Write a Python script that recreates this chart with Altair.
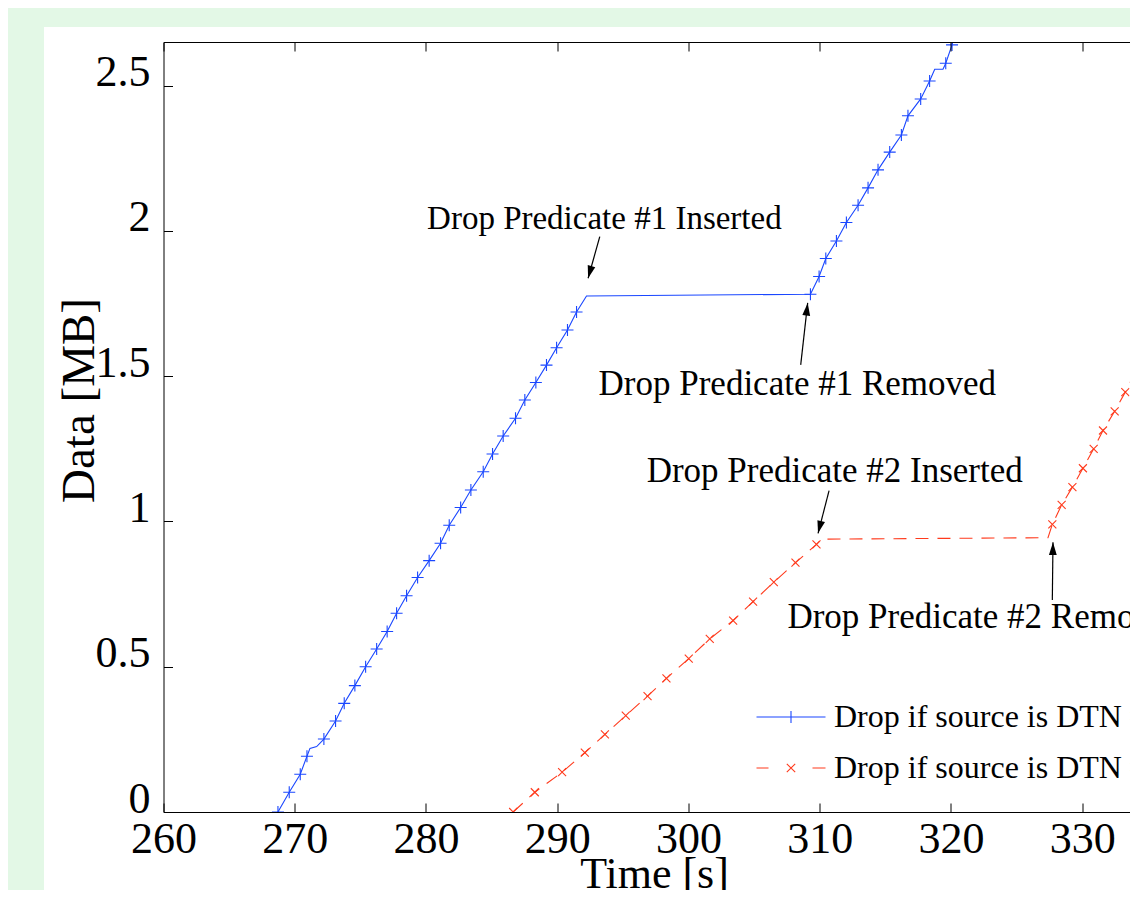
import math
import altair as alt
import pandas as pd

# ---------------- data ----------------
SERIES = ["Drop if source is DTN #1", "Drop if source is DTN #2"]

BLUE_T = [268.72, 269.58, 270.42, 270.93, 271.16, 271.67, 272.22, 273.11, 273.77, 274.58,
          275.40, 276.24, 277.04, 277.76, 278.52, 279.36, 280.24, 281.11, 281.77, 282.64,
          283.42, 284.36, 285.07, 285.88, 286.82, 287.53, 288.37, 289.18, 289.95, 290.78,
          291.47, 292.23, 309.29, 309.95, 310.46, 311.27, 312.03, 312.92, 313.68, 314.44,
          315.33, 316.22, 316.72, 317.69, 318.37, 318.76, 319.39, 319.60, 320.08, 320.24]
BLUE_MB = [0.000, 0.068, 0.130, 0.192, 0.219, 0.225, 0.251, 0.313, 0.374, 0.435,
           0.500, 0.561, 0.621, 0.684, 0.744, 0.807, 0.865, 0.925, 0.987, 1.048,
           1.108, 1.171, 1.232, 1.294, 1.355, 1.418, 1.478, 1.538, 1.598, 1.659,
           1.721, 1.776, 1.782, 1.843, 1.905, 1.965, 2.029, 2.088, 2.148, 2.210,
           2.271, 2.330, 2.396, 2.454, 2.516, 2.556, 2.556, 2.577, 2.640, 2.675]
BLUE_MARK = [1, 1, 1, 1, 0, 0, 1, 1, 1, 1,
             1, 1, 1, 1, 1, 1, 1, 1, 1, 1,
             1, 1, 1, 1, 1, 1, 1, 1, 1, 1,
             1, 0, 1, 1, 1, 1, 1, 1, 1, 1,
             1, 1, 1, 1, 1, 0, 0, 1, 1, 0]

RED_T = [286.64, 288.29, 290.37, 292.10, 293.63, 295.22, 296.88, 298.32, 300.02, 301.62,
         303.40, 304.92, 306.50, 308.15, 309.75, 310.13, 327.39, 327.72, 328.43, 329.25,
         330.05, 330.87, 331.58, 332.47, 333.28, 333.99, 334.75]
RED_MB = [0.000, 0.068, 0.137, 0.204, 0.267, 0.332, 0.399, 0.460, 0.528, 0.596,
          0.659, 0.724, 0.791, 0.858, 0.921, 0.939, 0.944, 0.990, 1.057, 1.118,
          1.183, 1.250, 1.313, 1.379, 1.445, 1.510, 1.573]
RED_MARK = [1, 1, 1, 1, 1, 1, 1, 1, 1, 1,
            1, 1, 1, 1, 1, 0, 0, 1, 1, 1,
            1, 1, 1, 1, 1, 1, 1]

X_TICKS = [260, 270, 280, 290, 300, 310, 320, 330]
Y_TICKS = [0, 0.5, 1, 1.5, 2, 2.5]

ANN_TEXT = ["Drop Predicate #1 Inserted", "Drop Predicate #1 Removed",
            "Drop Predicate #2 Inserted", "Drop Predicate #2 Removed"]
ANN_T = [293.59, 308.29, 311.14, 322.68]
ANN_MB = [2.007, 1.435, 1.137, 0.632]
ARROW_T0 = [293.24, 308.55, 310.71, 327.72]
ARROW_MB0 = [1.980, 1.539, 1.106, 0.730]
ARROW_T1 = [292.35, 309.08, 309.87, 327.77]
ARROW_MB1 = [1.837, 1.752, 0.959, 0.928]

# ---------------- styling ----------------
PX_PER_S = 13.125
X_DOMAIN = [260, 333.6]
Y_DOMAIN = [0, 2.65]
W = round((X_DOMAIN[1] - X_DOMAIN[0]) * PX_PER_S)
H = 770
BLUE = "#1a47ff"
RED = "#ff3a1c"
GREEN = "#e3f8e6"
FONT = "Liberation Serif"
ANN_FONT_SIZES = [33, 35, 35, 35]

PLUS = "M-1,0L1,0M0,-1L0,1"
CROSS = "M-1,-1L1,1M-1,1L1,-1"
ARROW_HEAD = "M0,0L-0.65,2.1L0.65,2.1Z"
LEG_BLUE = "M-1,0L10.5,0M4.75,-1L4.75,1"
LEG_RED = "M-1,0L1,0M8.33,0L10.5,0M4.05,-0.7L5.45,0.7M4.05,0.7L5.45,-0.7"

xs = alt.Scale(domain=X_DOMAIN, nice=False, zero=False)
ys = alt.Scale(domain=Y_DOMAIN, nice=False, zero=False)
cs = alt.Scale(domain=SERIES, range=[BLUE, RED])

blue = pd.DataFrame({"t": BLUE_T, "mb": BLUE_MB, "mark": BLUE_MARK,
                     "ord": list(range(len(BLUE_T)))})
red = pd.DataFrame({"t": RED_T, "mb": RED_MB, "mark": RED_MARK,
                    "ord": list(range(len(RED_T)))})
blue_pts = blue[blue.mark == 1]
red_pts = red[red.mark == 1]

sx = W / (X_DOMAIN[1] - X_DOMAIN[0])
sy = H / (Y_DOMAIN[1] - Y_DOMAIN[0])
angles = [math.degrees(math.atan2((t1 - t0) * sx, (m1 - m0) * sy)) % 360
          for t0, m0, t1, m1 in zip(ARROW_T0, ARROW_MB0, ARROW_T1, ARROW_MB1)]
arrows = pd.DataFrame({"t0": ARROW_T0, "m0": ARROW_MB0, "t1": ARROW_T1,
                       "m1": ARROW_MB1, "ang": angles})
ann = pd.DataFrame({"t": ANN_T, "mb": ANN_MB, "label": ANN_TEXT, "fs": ANN_FONT_SIZES})

common_ax = dict(grid=False, zindex=1, tickColor="black", domainColor="black",
                 tickWidth=1, domainWidth=1)

main_x = alt.Axis(orient="bottom", values=X_TICKS, format="d", ticks=False, tickSize=0,
                  domain=True, labelFont=FONT, labelFontSize=44, labelColor="black",
                  labelPadding=40, labelBaseline="alphabetic", labelFlush=False,
                  labelOverlap=False, title="Time [s]", titleFont=FONT, titleFontSize=44,
                  titleFontWeight="normal", titleColor="black", titleX=490.5, titleY=75,
                  titleBaseline="alphabetic", titleAlign="center", **common_ax)
main_y = alt.Axis(orient="left", values=Y_TICKS, format="~g", ticks=False, tickSize=0,
                  domain=True, labelFont=FONT, labelFontSize=44, labelColor="black",
                  labelPadding=13.5, labelBaseline="middle", labelOffset=-13,
                  labelFlush=False, labelOverlap=False,
                  title="Data [MB]", titleFont=FONT, titleFontSize=47,
                  titleFontWeight="normal", titleColor="black", titleX=-70, titleY=358,
                  titleBaseline="alphabetic", titleAlign="center", **common_ax)
tick_bottom = alt.Axis(orient="top", offset=-H, values=X_TICKS, labels=False, ticks=True,
                       tickSize=9, domain=False, title=None, **common_ax)
tick_top = alt.Axis(orient="bottom", offset=-H, values=X_TICKS, labels=False, ticks=True,
                    tickSize=9, domain=True, title=None, **common_ax)
tick_left = alt.Axis(orient="right", offset=-W, values=Y_TICKS, labels=False, ticks=True,
                     tickSize=9, domain=False, title=None, **common_ax)

bg = alt.Chart(pd.DataFrame({"a": [0]})).mark_rect(color="white").encode(
    x=alt.value(-119.5), x2=alt.value(W + 400), y=alt.value(-15), y2=alt.value(H + 300))

line_blue = alt.Chart(blue).mark_line(strokeWidth=1.1, clip=True, color=BLUE).encode(
    x=alt.X("t:Q", scale=xs, axis=main_x),
    y=alt.Y("mb:Q", scale=ys, axis=main_y),
    order="ord:Q",
)
line_red = alt.Chart(red).mark_line(strokeWidth=1.1, clip=True, color=RED,
                                    strokeDash=[13, 9]).encode(
    x=alt.X("t:Q", scale=xs, axis=None),
    y=alt.Y("mb:Q", scale=ys, axis=None),
    order="ord:Q",
)

bpts = alt.Chart(blue_pts).mark_point(shape=PLUS, size=144, filled=False, color=BLUE,
                                     strokeWidth=1.1, opacity=1, clip=True).encode(
    x=alt.X("t:Q", scale=xs, axis=tick_bottom),
    y=alt.Y("mb:Q", scale=ys, axis=tick_left),
)
rpts = alt.Chart(red_pts).mark_point(shape=CROSS, size=64, filled=False, color=RED,
                                    strokeWidth=1.1, opacity=1, clip=True).encode(
    x=alt.X("t:Q", scale=xs, axis=tick_top),
    y=alt.Y("mb:Q", scale=ys, axis=None),
)

rules = alt.Chart(arrows).mark_rule(color="black", strokeWidth=1.2).encode(
    x=alt.X("t0:Q", scale=xs, axis=None), y=alt.Y("m0:Q", scale=ys, axis=None),
    x2="t1:Q", y2="m1:Q")
heads = alt.Chart(arrows).mark_point(shape=ARROW_HEAD, size=144, filled=True, color="black",
                                    opacity=1, strokeWidth=0).encode(
    x=alt.X("t1:Q", scale=xs, axis=None), y=alt.Y("m1:Q", scale=ys, axis=None),
    angle=alt.Angle("ang:Q", scale=None))

texts = alt.Chart(ann).mark_text(font=FONT, align="center",
                                 baseline="alphabetic", color="black").encode(
    x=alt.X("t:Q", scale=xs, axis=None), y=alt.Y("mb:Q", scale=ys, axis=None),
    text="label:N", size=alt.Size("fs:Q", scale=None, legend=None))

leg = alt.Legend(orient="none", legendX=583, legendY=659, title=None, padding=0,
                 labelFont=FONT, labelFontSize=32, labelColor="black", labelLimit=0,
                 labelOffset=55.5, rowPadding=19, symbolSize=144, symbolStrokeWidth=1.1,
                 symbolOpacity=1)
legend_layer = alt.Chart(pd.DataFrame({"series": SERIES})).mark_point(
    filled=False, opacity=0).encode(
    color=alt.Color("series:N", scale=cs, legend=leg),
    shape=alt.Shape("series:N", scale=alt.Scale(domain=SERIES, range=[LEG_BLUE, LEG_RED]),
                    legend=leg),
)

chart = alt.layer(bg, line_blue, line_red, bpts, rpts, rules, heads, texts,
                  legend_layer).resolve_axis(
    x="independent", y="independent"
).properties(
    width=W, height=H, background=GREEN,
    autosize=alt.AutoSizeParams(type="none"),
    padding={"left": 155.5, "top": 34, "right": 0, "bottom": 78},
).configure_view(stroke=None)

chart.save("out.html", embed_options={"renderer": "svg", "actions": False})
